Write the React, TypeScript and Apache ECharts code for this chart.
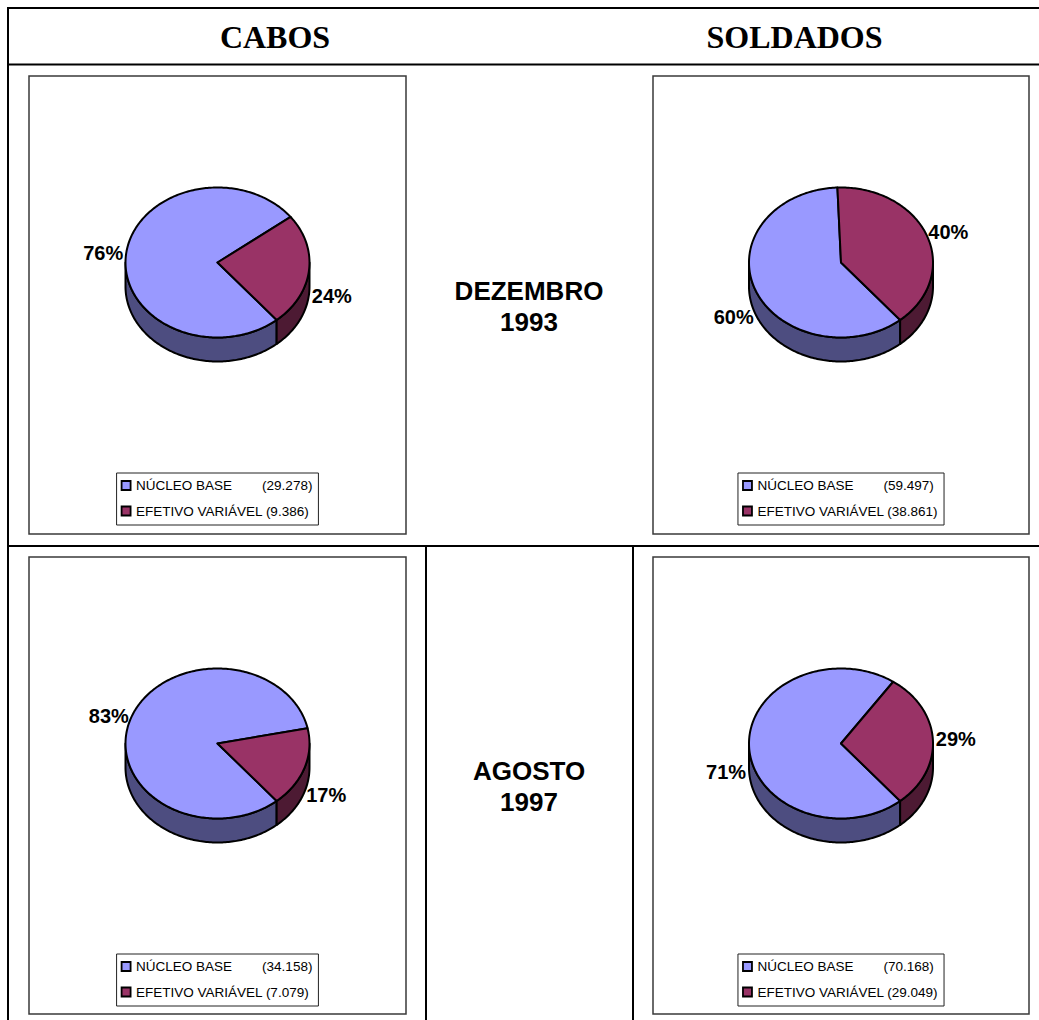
import React, { useEffect, useRef } from "react";
import * as echarts from "echarts";

// ---------- data ----------
const categories = ["NÚCLEO BASE", "EFETIVO VARIÁVEL"];
const columnTitles = ["CABOS", "SOLDADOS"];
const periodLabels = [
  ["DEZEMBRO", "1993"],
  ["AGOSTO", "1997"],
];
const cabos1993 = [29278, 9386];
const soldados1993 = [59497, 38861];
const cabos1997 = [34158, 7079];
const soldados1997 = [70168, 29049];

// ---------- styles / layout ----------
const topColors = ["#9999FF", "#993366"];
const sideColors = ["#4D4D80", "#4D1A33"];
const SANS = "'Liberation Sans', Arial, Helvetica, sans-serif";
const SERIF = "'Liberation Serif', 'Times New Roman', Times, serif";
const W = 1039;
const H = 1020;

const panels = [
  { values: cabos1993, x: 29, y: 76, w: 377, h: 458 },
  { values: soldados1993, x: 653, y: 76, w: 376, h: 458 },
  { values: cabos1997, x: 29, y: 557, w: 377, h: 457 },
  { values: soldados1997, x: 653, y: 557, w: 376, h: 457 },
];

const RX = 92;
const RY = 75;
const DEPTH = 24;
const START_ANGLE = -50; // math degrees, slices run clockwise
const LEGEND_FONT = 13.5;

const fmt = (v: number) => String(v).replace(/\B(?=(\d{3})+(?!\d))/g, ".");
const rad = (a: number) => (a * Math.PI) / 180;

let measureCtx: CanvasRenderingContext2D | null = null;
function measure(text: string, size: number) {
  if (!measureCtx) measureCtx = document.createElement("canvas").getContext("2d");
  if (!measureCtx) return text.length * size * 0.6;
  measureCtx.font = `${size}px ${SANS}`;
  return measureCtx.measureText(text).width;
}

function pieSeries(values: number[], cx: number, cy: number) {
  const total = values.reduce((a, b) => a + b, 0);
  return {
    type: "custom",
    coordinateSystem: "none",
    silent: true,
    animation: false,
    data: values.map((v, i) => ({ name: categories[i], value: v })),
    renderItem: (params: any, api: any) => {
      const i = params.dataIndex;
      const v = api.value(0) as number;
      let cum = 0;
      for (let k = 0; k < i; k++) cum += values[k];
      const a0 = START_ANGLE - (360 * cum) / total;
      const a1 = a0 - (360 * v) / total;
      const pt = (a: number, dy: number) => [
        cx + RX * Math.cos(rad(a)),
        cy - RY * Math.sin(rad(a)) + dy,
      ];
      const arc = (from: number, to: number, dy: number) => {
        const n = Math.max(2, Math.ceil(Math.abs(to - from)));
        const pts: number[][] = [];
        for (let j = 0; j <= n; j++) pts.push(pt(from + ((to - from) * j) / n, dy));
        return pts;
      };
      const children: any[] = [];
      // visible front walls
      const fronts = [
        [-180, 0],
        [-540, -360],
      ];
      for (const [lo, hi] of fronts) {
        const s = Math.max(a1, lo);
        const e = Math.min(a0, hi);
        if (e > s) {
          children.push({
            type: "polygon",
            shape: { points: [...arc(s, e, 0), ...arc(e, s, DEPTH)] },
            style: { fill: sideColors[i], stroke: "#000", lineWidth: 2, lineJoin: "round" },
          });
        }
      }
      children.push({
        type: "polygon",
        shape: { points: [[cx, cy], ...arc(a0, a1, 0)] },
        style: { fill: topColors[i], stroke: "#000", lineWidth: 2, lineJoin: "round" },
      });
      const mid = (a0 + a1) / 2;
      const c = Math.cos(rad(mid));
      const s = Math.sin(rad(mid));
      const lx = cx + (RX + 23) * c;
      const ly = cy - (RY + 10) * s + (s < 0 ? DEPTH : 0);
      children.push({
        type: "text",
        x: lx,
        y: ly,
        style: {
          text: Math.round((100 * v) / total) + "%",
          fill: "#000",
          fontSize: 20,
          fontWeight: "bold",
          fontFamily: SANS,
          textAlign: "center",
          textVerticalAlign: "middle",
        },
      });
      return { type: "group", children };
    },
  };
}

function legendElements(values: number[], centerX: number, top: number) {
  const row1Name = categories[0];
  const row1Num = `(${fmt(values[0])})`;
  const row1W = measure(row1Name + "        " + row1Num, LEGEND_FONT);
  const row2Text = `${categories[1]} (${fmt(values[1])})`;
  const row2W = measure(row2Text, LEGEND_FONT);
  const inner = Math.max(row1W, row2W);
  const boxW = 19.5 + inner + 6;
  const left = centerX - boxW / 2;
  const textX = left + 19.5;
  const rows = [top + 12.5, top + 38];
  const els: any[] = [
    {
      type: "rect",
      shape: { x: left, y: top, width: boxW, height: 52 },
      style: { fill: "#fff", stroke: "#222", lineWidth: 1 },
    },
  ];
  rows.forEach((ry, i) => {
    els.push({
      type: "rect",
      shape: { x: textX - 14.5, y: ry - 4.5, width: 9, height: 9 },
      style: { fill: topColors[i], stroke: "#000", lineWidth: 1.8 },
    });
  });
  const txt = (x: number, y: number, text: string, align: string) => ({
    type: "text",
    x,
    y,
    style: {
      text,
      fill: "#000",
      fontSize: LEGEND_FONT,
      fontFamily: SANS,
      textAlign: align,
      textVerticalAlign: "middle",
    },
  });
  els.push(txt(textX, rows[0], row1Name, "left"));
  els.push(txt(textX + row1W, rows[0], row1Num, "right"));
  els.push(txt(textX, rows[1], row2Text, "left"));
  return els;
}

function buildOption() {
  const line = (x1: number, y1: number, x2: number, y2: number) => ({
    type: "line",
    shape: { x1, y1, x2, y2 },
    style: { stroke: "#000", lineWidth: 2 },
  });
  const elements: any[] = [
    line(7, 8, W, 8),
    line(8, 7, 8, H),
    line(8, 64.5, W, 64.5),
    line(8, 546, W, 546),
    line(426, 546, 426, H),
    line(633, 546, 633, H),
  ];
  const headerX = [275, 794.5];
  columnTitles.forEach((t, i) =>
    elements.push({
      type: "text",
      x: headerX[i],
      y: 37,
      style: {
        text: t,
        fill: "#000",
        fontSize: 32,
        fontWeight: "bold",
        fontFamily: SERIF,
        textAlign: "center",
        textVerticalAlign: "middle",
      },
    })
  );
  const periodY = [291, 771];
  periodLabels.forEach((lines, r) =>
    lines.forEach((t, k) =>
      elements.push({
        type: "text",
        x: 529,
        y: periodY[r] + k * 31,
        style: {
          text: t,
          fill: "#000",
          fontSize: 26,
          fontWeight: "bold",
          fontFamily: SANS,
          textAlign: "center",
          textVerticalAlign: "middle",
        },
      })
    )
  );
  panels.forEach((p) => {
    elements.push({
      type: "rect",
      shape: { x: p.x, y: p.y, width: p.w, height: p.h },
      style: { fill: "none", stroke: "#3a3a3a", lineWidth: 1.5 },
    });
    elements.push(...legendElements(p.values, p.x + p.w / 2, p.y + 397));
  });

  return {
    animation: false,
    backgroundColor: "#ffffff",
    graphic: { elements },
    series: panels.map((p) => pieSeries(p.values, p.x + p.w / 2, p.y + 186.5)),
  };
}

export default function App() {
  const ref = useRef<HTMLDivElement>(null);
  useEffect(() => {
    if (!ref.current) return;
    const chart = echarts.init(ref.current, null, { renderer: "svg", width: W, height: H });
    chart.setOption(buildOption() as any);
    return () => chart.dispose();
  }, []);
  return (
    <div
      ref={ref}
      style={{ position: "absolute", left: 0, top: 0, width: W, height: H, background: "#fff" }}
    />
  );
}
